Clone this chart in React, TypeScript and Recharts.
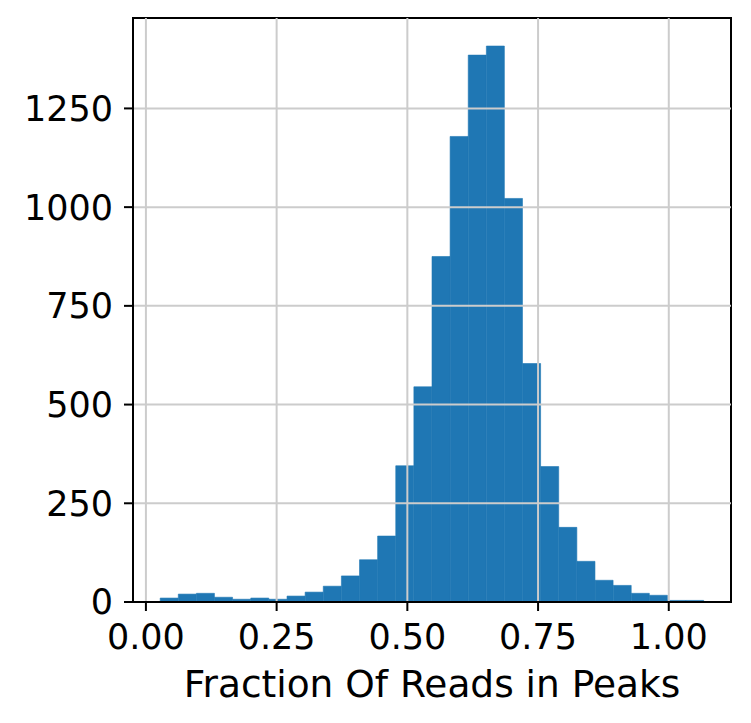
import { BarChart, Bar, XAxis, YAxis, ReferenceLine, ReferenceArea } from "recharts";

// histogram bins (left edge of first bin, right edge of last bin)
const binStart = 0.0273;
const binEnd = 1.067;
const counts = [
  10, 20, 22, 12, 7, 10, 7, 15, 25, 40, 66, 107, 167, 345, 545,
  875, 1179, 1385, 1408, 1022, 604, 343, 189, 103, 55, 42, 22, 17, 4, 4,
];
const xTicks = [0, 0.25, 0.5, 0.75, 1.0];
const yTicks = [0, 250, 500, 750, 1000, 1250];
const xDomain: [number, number] = [-0.0247, 1.119];
const yDomain: [number, number] = [0, 1479];

const binWidth = (binEnd - binStart) / counts.length;
const data = counts.map((count, i) => ({
  x: binStart + (i + 0.5) * binWidth,
  count,
}));

const font = "DejaVu Sans";
const gridColor = "#cccccc";

export default function App() {
  return (
    <div style={{ position: "absolute", left: 0, top: 0, width: 751, height: 723, background: "#fff" }}>
      <BarChart
        width={751}
        height={723}
        data={data}
        margin={{ top: 18, right: 20, left: 0, bottom: 0 }}
        barCategoryGap={0}
        barGap={0}
      >
        <XAxis
          dataKey="x"
          type="number"
          domain={xDomain}
          ticks={xTicks}
          allowDataOverflow
          height={121}
          tickSize={9}
          tickMargin={13}
          tickFormatter={(v: number) => v.toFixed(2)}
          tick={{ fontSize: 35, fill: "#000", fontFamily: font }}
          stroke="#000"
          strokeWidth={2}
          label={{
            value: "Fraction Of Reads in Peaks",
            position: "insideBottom",
            offset: 26,
            style: { fontSize: 37.5, fill: "#000", fontFamily: font },
          }}
        />
        <YAxis
          type="number"
          domain={yDomain}
          ticks={yTicks}
          allowDataOverflow
          width={133}
          tickSize={9}
          tickMargin={11}
          tick={{ fontSize: 35, fill: "#000", fontFamily: font }}
          stroke="#000"
          strokeWidth={2}
        />
        <Bar
          dataKey="count"
          fill="#1f77b4"
          stroke="#1f77b4"
          strokeWidth={0.6}
          isAnimationActive={false}
        />
        {/* grid drawn above the bars, like matplotlib */}
        {xTicks.map((t) => (
          <ReferenceLine key={`gx${t}`} x={t} stroke={gridColor} strokeWidth={2} />
        ))}
        {yTicks.filter((t) => t > 0).map((t) => (
          <ReferenceLine key={`gy${t}`} y={t} stroke={gridColor} strokeWidth={2} />
        ))}
        <ReferenceArea
          x1={xDomain[0]}
          x2={xDomain[1]}
          y1={yDomain[0]}
          y2={yDomain[1]}
          fill="none"
          stroke="#000"
          strokeWidth={2}
          ifOverflow="visible"
        />
      </BarChart>
    </div>
  );
}
